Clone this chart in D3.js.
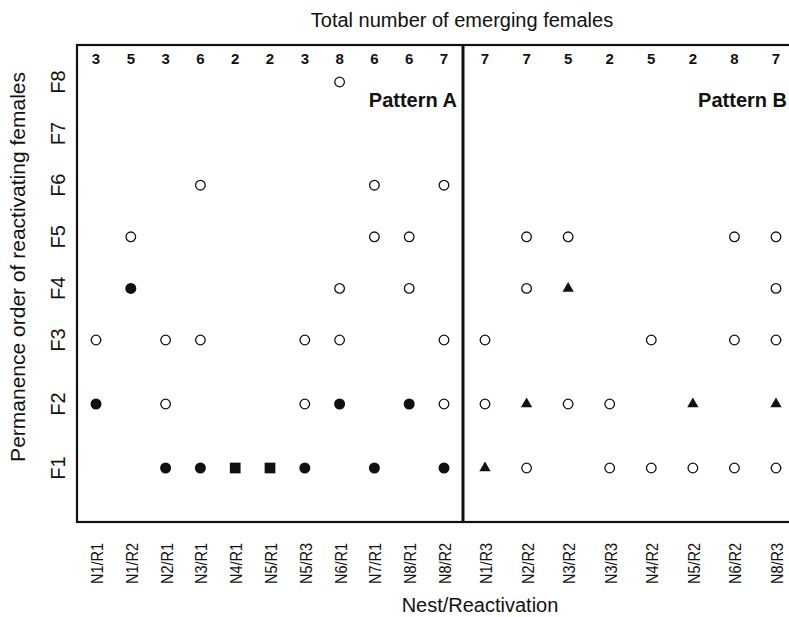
<!DOCTYPE html>
<html>
<head>
<meta charset="utf-8">
<script src="https://cdn.jsdelivr.net/npm/d3@7/dist/d3.min.js"></script>
<style>
  html, body { margin: 0; padding: 0; background: #fff; }
  svg { display: block; }
  text { font-family: "Liberation Sans", Arial, sans-serif; fill: #111; }
</style>
</head>
<body>
<svg id="chart" width="789" height="617"></svg>
<script>
// ---------- data ----------
const categoriesA = ["N1/R1","N1/R2","N2/R1","N3/R1","N4/R1","N5/R1","N5/R3","N6/R1","N7/R1","N8/R1","N8/R2"];
const categoriesB = ["N1/R3","N2/R2","N3/R2","N3/R3","N4/R2","N5/R2","N6/R2","N8/R3"];
const totalsA = [3,5,3,6,2,2,3,8,6,6,7];
const totalsB = [7,7,5,2,5,2,8,7];
const orderLabels = ["F1","F2","F3","F4","F5","F6","F7","F8"];

// [category, order] pairs per marker type
const openCircles = [
  ["N1/R1",3],["N1/R2",5],["N2/R1",3],["N2/R1",2],["N3/R1",6],["N3/R1",3],
  ["N5/R3",3],["N5/R3",2],["N6/R1",8],["N6/R1",4],["N6/R1",3],["N7/R1",6],["N7/R1",5],
  ["N8/R1",5],["N8/R1",4],["N8/R2",6],["N8/R2",3],["N8/R2",2],
  ["N1/R3",3],["N1/R3",2],["N2/R2",5],["N2/R2",4],["N2/R2",1],["N3/R2",5],["N3/R2",2],
  ["N3/R3",2],["N3/R3",1],["N4/R2",3],["N4/R2",1],["N5/R2",1],
  ["N6/R2",5],["N6/R2",3],["N6/R2",1],["N8/R3",5],["N8/R3",4],["N8/R3",3],["N8/R3",1]
];
const filledCircles = [
  ["N1/R1",2],["N1/R2",4],["N2/R1",1],["N3/R1",1],["N5/R3",1],["N6/R1",2],
  ["N7/R1",1],["N8/R1",2],["N8/R2",1]
];
const filledSquares = [["N4/R1",1],["N5/R1",1]];
const filledTriangles = [["N1/R3",1],["N2/R2",2],["N3/R2",4],["N5/R2",2],["N8/R3",2]];

// ---------- layout ----------
const svg = d3.select("#chart");
const frameLeft = 77, frameTop = 45, frameBottom = 522, frameRight = 791, dividerX = 463;

const xA = d3.scalePoint().domain(categoriesA).range([96, 444]);
const xB = d3.scalePoint().domain(categoriesB).range([485, 776]);
const x = c => categoriesA.includes(c) ? xA(c) : xB(c);
const y = d3.scaleLinear().domain([1, 3, 8]).range([468, 340, 82]);

// frame
svg.append("rect").attr("x", frameLeft).attr("y", frameTop)
  .attr("width", frameRight - frameLeft).attr("height", frameBottom - frameTop)
  .attr("fill", "none").attr("stroke", "#111").attr("stroke-width", 2.2);
svg.append("line").attr("x1", dividerX).attr("x2", dividerX).attr("y1", frameTop).attr("y2", frameBottom)
  .attr("stroke", "#111").attr("stroke-width", 3);

// y tick labels
svg.append("g").selectAll("text").data(orderLabels).join("text")
  .attr("transform", (d, i) => `translate(65,${y(i + 1)}) rotate(-90)`)
  .attr("text-anchor", "middle")
  .style("font-size", "20px")
  .text(d => d);

// x tick labels
const allCats = categoriesA.concat(categoriesB);
svg.append("g").selectAll("text").data(allCats).join("text")
  .attr("transform", d => `translate(${x(d) + 1},543) rotate(-90)`)
  .attr("text-anchor", "end")
  .attr("dy", "0.35em")
  .attr("textLength", 41)
  .attr("lengthAdjust", "spacingAndGlyphs")
  .style("font-size", "17px")
  .text(d => d);

// totals
const totals = categoriesA.map((c, i) => [c, totalsA[i]]).concat(categoriesB.map((c, i) => [c, totalsB[i]]));
svg.append("g").selectAll("text").data(totals).join("text")
  .attr("x", d => x(d[0])).attr("y", 64)
  .attr("text-anchor", "middle")
  .style("font-size", "15px").style("font-weight", "bold")
  .text(d => d[1]);

// pattern labels
svg.append("text").attr("x", 457).attr("y", 107).attr("text-anchor", "end")
  .style("font-size", "20px").style("font-weight", "bold").text("Pattern A");
svg.append("text").attr("x", 787).attr("y", 107).attr("text-anchor", "end")
  .style("font-size", "20px").style("font-weight", "bold").text("Pattern B");

// axis titles
svg.append("text").attr("x", 462).attr("y", 27).attr("text-anchor", "middle")
  .style("font-size", "20px").text("Total number of emerging females");
svg.append("text").attr("x", 480).attr("y", 612).attr("text-anchor", "middle")
  .style("font-size", "20px").text("Nest/Reactivation");
svg.append("text").attr("transform", "translate(25,72) rotate(-90)").attr("text-anchor", "end")
  .style("font-size", "21px").text("Permanence order of reactivating females");

// marks
const marks = svg.append("g");
marks.selectAll("circle.open").data(openCircles).join("circle").attr("class", "open")
  .attr("cx", d => x(d[0])).attr("cy", d => y(d[1])).attr("r", 4.8)
  .attr("fill", "#fff").attr("stroke", "#111").attr("stroke-width", 1.3);
marks.selectAll("circle.filled").data(filledCircles).join("circle").attr("class", "filled")
  .attr("cx", d => x(d[0])).attr("cy", d => y(d[1])).attr("r", 5.5)
  .attr("fill", "#111");
marks.selectAll("path.square").data(filledSquares).join("path").attr("class", "square")
  .attr("transform", d => `translate(${x(d[0])},${y(d[1])})`)
  .attr("d", d3.symbol().type(d3.symbolSquare).size(115)).attr("fill", "#111");
marks.selectAll("path.tri").data(filledTriangles).join("path").attr("class", "tri")
  .attr("transform", d => `translate(${x(d[0])},${y(d[1])})`)
  .attr("d", d3.symbol().type(d3.symbolTriangle).size(55)).attr("fill", "#111");
</script>
</body>
</html>
